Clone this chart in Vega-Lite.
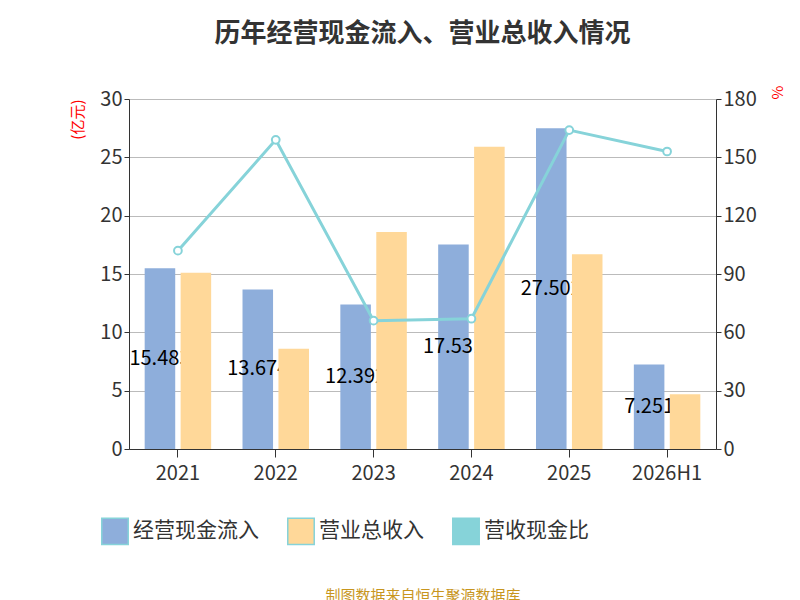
{
"$schema":"https://vega.github.io/schema/vega-lite/v6.json",
"width":587,"height":350,
"padding":{"left":70,"top":21,"right":30,"bottom":5},
"title":{"text":"历年经营现金流入、营业总收入情况","fontSize":26,"fontWeight":"bold","color":"#333","font":"Noto Sans CJK SC","offset":38},
"config":{"font":"Noto Sans CJK SC","view":{"stroke":null},"axis":{"labelFontSize":20,"labelColor":"#333","grid":false}},
"datasets":{
"bars":[
{"year":"2021","series":"经营现金流入","value":15.483,"label":"15.483"},
{"year":"2022","series":"经营现金流入","value":13.674,"label":"13.674"},
{"year":"2023","series":"经营现金流入","value":12.392,"label":"12.392"},
{"year":"2024","series":"经营现金流入","value":17.531,"label":"17.531"},
{"year":"2025","series":"经营现金流入","value":27.502,"label":"27.502"},
{"year":"2026H1","series":"经营现金流入","value":7.251,"label":"7.251"},
{"year":"2021","series":"营业总收入","value":15.1},
{"year":"2022","series":"营业总收入","value":8.6},
{"year":"2023","series":"营业总收入","value":18.6},
{"year":"2024","series":"营业总收入","value":25.9},
{"year":"2025","series":"营业总收入","value":16.7},
{"year":"2026H1","series":"营业总收入","value":4.7}],
"ratio":[
{"year":"2021","series":"营收现金比","ratio":102},
{"year":"2022","series":"营收现金比","ratio":159},
{"year":"2023","series":"营收现金比","ratio":66},
{"year":"2024","series":"营收现金比","ratio":67},
{"year":"2025","series":"营收现金比","ratio":164},
{"year":"2026H1","series":"营收现金比","ratio":153}]},
"encoding":{"x":{"field":"year","type":"nominal","sort":null,"scale":{"paddingInner":0.1,"paddingOuter":0.05},"axis":{"title":"制图数据来自恒生聚源数据库","titleColor":"#c8961e","titleFontSize":15,"titleFontWeight":"normal","titlePadding":105,"labelAngle":0,"domainColor":"#333","tickColor":"#333","labelPadding":6,"tickSize":8}}},
"layer":[
{"layer":[
{"data":{"name":"bars"},"transform":[{"filter":"datum.series=='经营现金流入'"}],"mark":{"type":"bar"},
"encoding":{"xOffset":{"field":"series","type":"nominal","scale":{"domain":["经营现金流入","营业总收入"],"paddingInner":0.15,"paddingOuter":0.3}},
"y":{"field":"value","type":"quantitative","scale":{"domain":[0,30]},"axis":{"values":[0,5,10,15,20,25,30],"grid":true,"gridColor":"#bbb","title":"(亿元)","titleColor":"red","titleFontSize":15,"titleFontWeight":"normal","titleAnchor":"end","titlePadding":14,"domainColor":"#333","tickColor":"#333"}},
"color":{"field":"series","type":"nominal","scale":{"domain":["经营现金流入","营业总收入","营收现金比"],"range":["#8eaedb","#ffd899","#86d3d9"]},"legend":{"orient":"none","legendX":-28,"legendY":418,"direction":"horizontal","title":null,"labelFontSize":21,"labelColor":"#333","symbolSize":700,"symbolType":"square","columnPadding":25}}}},
{"data":{"name":"bars"},"transform":[{"filter":"datum.series=='经营现金流入'"},{"calculate":"datum.value/2","as":"mid"}],"mark":{"type":"text","fontSize":20,"color":"#000"},
"encoding":{"xOffset":{"field":"series","type":"nominal","scale":{"domain":["经营现金流入","营业总收入"],"paddingInner":0.15,"paddingOuter":0.3}},"y":{"field":"mid","type":"quantitative"},"text":{"field":"label"}}},
{"data":{"name":"bars"},"transform":[{"filter":"datum.series=='营业总收入'"}],"mark":{"type":"bar"},
"encoding":{"xOffset":{"field":"series","type":"nominal","scale":{"domain":["经营现金流入","营业总收入"],"paddingInner":0.15,"paddingOuter":0.3}},"y":{"field":"value","type":"quantitative"},"color":{"field":"series","type":"nominal"}}}
]},
{"data":{"name":"ratio"},"layer":[
{"mark":{"type":"line","strokeWidth":3,"color":"#86d3d9"},"encoding":{"y":{"field":"ratio","type":"quantitative","scale":{"domain":[0,180]},"axis":{"orient":"right","values":[0,30,60,90,120,150,180],"title":"%","titleColor":"red","titleFontSize":15,"titleFontWeight":"normal","titleAnchor":"end","titleAngle":90,"titlePadding":12,"domainColor":"#333","tickColor":"#333"}}}},
{"mark":{"type":"point","filled":true,"fill":"white","stroke":"#86d3d9","strokeWidth":2,"size":60,"opacity":1},"encoding":{"y":{"field":"ratio","type":"quantitative"},"color":{"field":"series","type":"nominal"}}}
]}
],
"resolve":{"scale":{"y":"independent"}}
}
